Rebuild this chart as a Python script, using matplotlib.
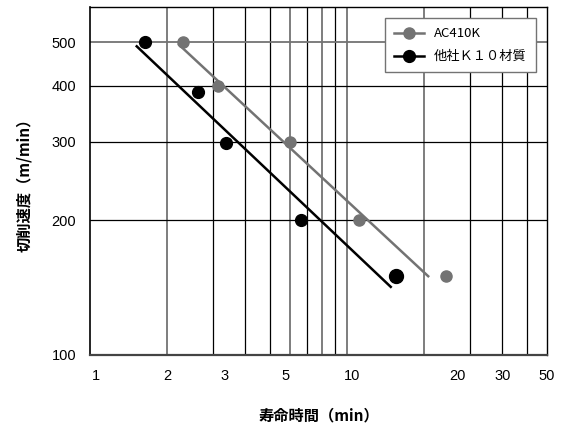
import numpy as np
import matplotlib.pyplot as plt
from matplotlib.ticker import NullLocator

plt.rcParams['font.family'] = ['Noto Sans CJK JP', 'DejaVu Sans']

# ======================
# DATA
# ======================
ac_time = [2.3, 3.15, 6.0, 11.1, 24.3]
ac_speed = [500, 400, 300, 200, 150]
ac_fit_time = [2.22, 20.7]
ac_fit_speed = [494, 150]

k10_time = [1.64, 2.63, 3.38, 6.62, 15.5]
k10_speed = [500, 387, 298, 200, 150]
k10_fit_time = [1.52, 14.8]
k10_fit_speed = [490, 142]

# grid lines (gray ones are drawn a bit heavier)
vgrid_gray = [2, 6, 8, 10, 20]
vgrid_black = [3, 4, 5, 7, 9, 30, 40, 50]
hgrid_gray = [500]
hgrid_black = [200, 300, 400]

# tick labels, where they sit in the original
xtick_pos = [1.05, 2.0, 3.35, 5.74, 10.5, 27.0, 40.5, 60]
xtick_lab = ['1', '2', '3', '5', '10', '20', '30', '50']
ytick_pos = [100, 200, 300, 400, 500]

GRAY = '#737373'
NUM_FONT = ['Liberation Sans', 'DejaVu Sans']

# ======================
# FIGURE
# ======================
fig = plt.figure(figsize=(5.66, 4.23), dpi=100)
ax = fig.add_axes([0.159, 0.1608, 0.8074, 0.8227])
ax.set_xscale('log')
ax.set_yscale('log')
ax.set_xlim(1, 60)
ax.set_ylim(100, 600)

for x in vgrid_gray:
    ax.axvline(x, color=GRAY, lw=1.3, zorder=1)
for x in vgrid_black:
    ax.axvline(x, color='black', lw=0.9, zorder=1)
for y in hgrid_gray:
    ax.axhline(y, color=GRAY, lw=1.3, zorder=1)
for y in hgrid_black:
    ax.axhline(y, color='black', lw=0.9, zorder=1)

# fitted lines
ax.plot(ac_fit_time, ac_fit_speed, color=GRAY, lw=1.8, zorder=3)
ax.plot(k10_fit_time, k10_fit_speed, color='black', lw=1.8, zorder=3)

# measured points
ax.plot(ac_time, ac_speed, 'o', color=GRAY, ms=8, zorder=4)
ax.plot(k10_time[:-1], k10_speed[:-1], 'o', color='black', ms=8.5, zorder=4)
ax.plot(k10_time[-1:], k10_speed[-1:], 'o', color='black', ms=10, zorder=4)

# legend handles
ax.plot([], [], '-o', color=GRAY, lw=1.8, ms=8, label='AC410K')
ax.plot([], [], '-o', color='black', lw=1.8, ms=8.5, label='他社Ｋ１０材質')
leg = ax.legend(loc='upper right', bbox_to_anchor=(0.976, 0.968),
                borderaxespad=0, fancybox=False,
                handlelength=2.3, borderpad=0.7, labelspacing=0.75,
                handletextpad=0.75, framealpha=1,
                prop={'family': ['Noto Sans CJK JP', 'DejaVu Sans'], 'size': 9.5})
leg.get_frame().set_edgecolor(GRAY)
leg.get_frame().set_linewidth(1.0)

ax.xaxis.set_minor_locator(NullLocator())
ax.yaxis.set_minor_locator(NullLocator())
ax.set_xticks(xtick_pos, xtick_lab)
ax.set_yticks(ytick_pos, [str(v) for v in ytick_pos])
ax.tick_params(length=0, labelsize=10.5, pad=10)
ax.tick_params(axis='y', pad=10)
for lab in ax.get_xticklabels() + ax.get_yticklabels():
    lab.set_family(NUM_FONT)

for side in ['top', 'right']:
    ax.spines[side].set_color('black')
    ax.spines[side].set_linewidth(1.0)
ax.spines['left'].set_linewidth(1.2)
ax.spines['bottom'].set_color('#444444')
ax.spines['bottom'].set_linewidth(1.6)

ax.set_xlabel('寿命時間（min）', fontsize=11, fontweight='bold', labelpad=18)
ax.set_ylabel('切削速度（m/min）', fontsize=11, fontweight='bold', labelpad=14)

fig.savefig('out.png', dpi=100)
